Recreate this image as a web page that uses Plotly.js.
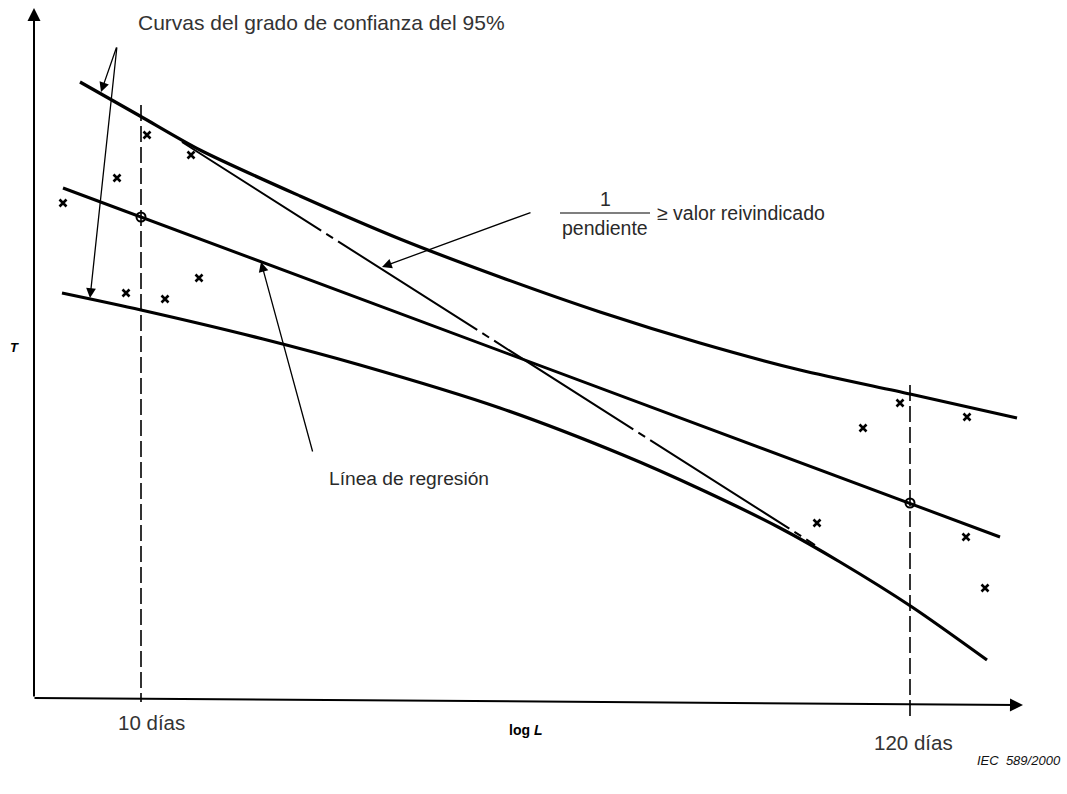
<!DOCTYPE html>
<html>
<head>
<meta charset="utf-8">
<script src="https://cdn.plot.ly/plotly-3.0.1.min.js"></script>
<style>html,body{margin:0;padding:0;background:#fff;}#chart{width:1067px;height:794px;}</style>
</head>
<body>
<div id="chart"></div>
<script>
// Values, in the figure's own frame (x = log L position, y = T position, downward)
var upperX = [80, 140, 200, 300, 400, 500, 600, 700, 800, 910, 1017];
var upperY = [82, 116, 150, 196, 239, 277, 312, 343, 370, 394, 418];
var regX = [63, 1000];
var regY = [188, 537];
var lowerX = [62, 141, 263, 360, 500, 623, 700, 780, 840, 912, 987];
var lowerY = [293, 310, 339, 365, 408, 455, 489, 528, 562, 607, 660];
var slopeX = [182, 815];
var slopeY = [142, 545];
var obsX = [63, 117, 147, 191, 126, 165, 199, 900, 863, 967, 817, 966, 985];
var obsY = [203, 178, 135, 155, 293, 299, 278, 403, 428, 417, 523, 537, 588];
var circX = [141, 910];
var circY = [217, 503];
var day10X = [141, 141];
var day10Y = [105, 702];
var day120X = [910, 910];
var day120Y = [385, 720];
var xAxisX = [33, 1023];
var xAxisY = [698, 705];
var yAxisX = [34, 34];
var yAxisY = [698, 8];
var barX = [560, 650];
var barY = [213, 213];
var tickLabels = ["10 días", "120 días"];

var K = '#000';
function line(x, y, w, dash, shape) {
  return {x: x, y: y, mode: 'lines', hoverinfo: 'skip',
          line: {color: K, width: w, dash: dash || 'solid', shape: shape || 'linear', smoothing: 0.8}};
}
var traces = [
  line(upperX, upperY, 3.2, 'solid', 'spline'),
  line(regX, regY, 3, 'solid'),
  line(lowerX, lowerY, 3.2, 'solid', 'spline'),
  line(slopeX, slopeY, 2, '165px,6px,8px,6px'),
  line(day10X, day10Y, 1.6, '16px,5px'),
  line(day120X, day120Y, 1.6, '16px,5px'),
  line(barX, barY, 1.2, 'solid'),
  {x: obsX, y: obsY, mode: 'markers', hoverinfo: 'skip',
   marker: {symbol: 'x-thin', size: 7, line: {color: K, width: 2.6}}},
  {x: circX, y: circY, mode: 'markers', hoverinfo: 'skip',
   marker: {symbol: 'circle-open', size: 9, color: K, line: {color: K, width: 2}}}
];

function arrow(hx, hy, tx, ty, w, size) {
  return {x: hx, y: hy, ax: tx, ay: ty, xref: 'x', yref: 'y', axref: 'x', ayref: 'y',
          text: '', showarrow: true, arrowhead: 2, arrowsize: size || 1.4, arrowwidth: w || 1.3,
          arrowcolor: K, standoff: 0, startstandoff: 0};
}
function label(x, y, txt, size, xa, extra) {
  var a = {x: x, y: y, xref: 'x', yref: 'y', text: txt, showarrow: false,
           xanchor: xa || 'center', yanchor: 'middle',
           font: {family: 'Liberation Sans, Arial, sans-serif', size: size, color: '#2a2a2a'}};
  if (extra) for (var k in extra) a[k] = extra[k];
  return a;
}

var annotations = [
  // axes
  arrow(xAxisX[1], xAxisY[1], xAxisX[0], xAxisY[0], 2, 1.3),
  arrow(yAxisX[1], yAxisY[1], yAxisX[0], yAxisY[0], 2, 1.3),
  // pointer arrows
  arrow(101, 92, 117, 46, 1.3, 1.5),
  arrow(90, 298, 117, 46, 1.3, 1.5),
  arrow(261, 262, 313, 453, 1.3, 1.5),
  arrow(382, 267, 532, 212, 1.3, 1.5),
  // texts
  label(321, 22, 'Curvas del grado de confianza del 95%', 21, 'center', {font: {family: 'Liberation Sans, Arial, sans-serif', size: 21, color: '#333'}}),
  label(605, 199, '1', 19.5),
  label(605, 228, 'pendiente', 19.5),
  label(655, 213, '≥ valor reivindicado', 19.5, 'left'),
  label(327, 478, 'Línea de regresión', 19.2, 'left'),
  label(151, 722, tickLabels[0], 20.5, 'center', {font: {family: 'Liberation Sans, Arial, sans-serif', size: 20.5, color: '#333'}}),
  label(913, 742, tickLabels[1], 20.5, 'center', {font: {family: 'Liberation Sans, Arial, sans-serif', size: 20.5, color: '#333'}}),
  label(525, 730, '<b>log <i>L</i></b>', 14, 'center', {font: {family: 'Liberation Sans, Arial, sans-serif', size: 14, color: '#000'}}),
  label(14, 347, '<b><i>T</i></b>', 13, 'center', {font: {family: 'Liberation Sans, Arial, sans-serif', size: 13, color: '#000'}}),
  label(1063, 760, '<i>IEC  589/2000</i>', 13, 'right', {font: {family: 'Liberation Sans, Arial, sans-serif', size: 13, color: '#111'}})
];

var layout = {
  width: 1067, height: 794,
  margin: {l: 0, r: 0, t: 0, b: 0},
  paper_bgcolor: '#fff', plot_bgcolor: '#fff',
  showlegend: false,
  xaxis: {range: [0, 1067], visible: false, fixedrange: true},
  yaxis: {range: [794, 0], visible: false, fixedrange: true},
  annotations: annotations
};
Plotly.newPlot('chart', traces, layout, {staticPlot: true, displayModeBar: false});
</script>
</body>
</html>
